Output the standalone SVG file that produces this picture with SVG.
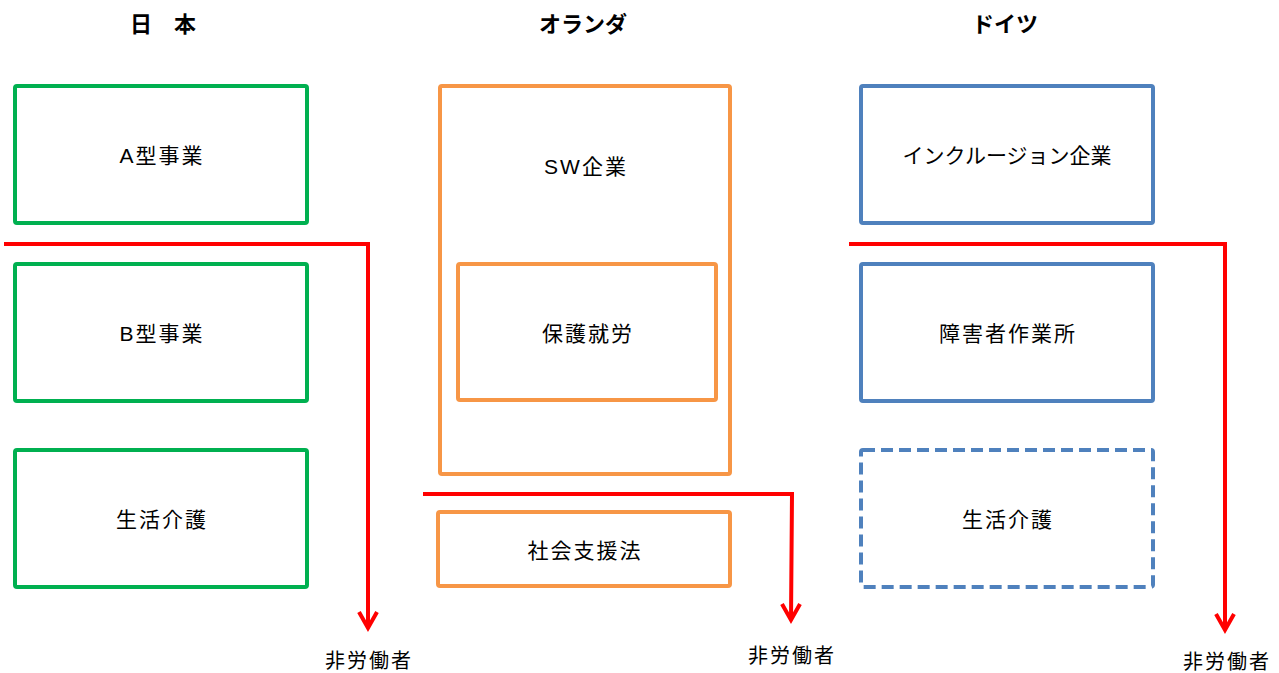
<svg xmlns="http://www.w3.org/2000/svg" width="1279" height="673" viewBox="0 0 1279 673">
<style>
.t{font-family:"Liberation Sans","Noto Sans CJK JP",sans-serif;font-size:21px;letter-spacing:2px;fill:#000;text-anchor:middle;dominant-baseline:central}
.n{letter-spacing:0}
.h{font-family:"Liberation Sans","Noto Sans CJK JP",sans-serif;font-size:22px;font-weight:bold;fill:#000;text-anchor:middle;dominant-baseline:central}
.s{font-family:"Liberation Sans","Noto Sans CJK JP",sans-serif;font-size:20px;letter-spacing:2px;fill:#000;text-anchor:middle;dominant-baseline:central}
.g{fill:none;stroke:#00B050;stroke-width:4;rx:2}
.o{fill:none;stroke:#F79646;stroke-width:4;rx:2}
.b{fill:none;stroke:#4F81BD;stroke-width:4;rx:2}
.d{stroke-dasharray:12 6}
.r{fill:none;stroke:#FF0000;stroke-width:4}
</style>
<g id="titles">
<text class="h" x="163" y="24">日　本</text>
<text class="h" x="583" y="24">オランダ</text>
<text class="h" x="1005" y="24">ドイツ</text>
</g>
<g id="jp-a"><rect class="g" x="15" y="86" width="292" height="137"/><text class="t" x="162" y="155">A型事業</text></g>
<g id="jp-b"><rect class="g" x="15" y="264" width="292" height="137"/><text class="t" x="162" y="333">B型事業</text></g>
<g id="jp-c"><rect class="g" x="15" y="450" width="292" height="137"/><text class="t" x="162" y="519">生活介護</text></g>
<g id="nl-sw"><rect class="o" x="440" y="86" width="290" height="388"/><text class="t" x="586" y="166">SW企業</text></g>
<g id="nl-p"><rect class="o" x="458" y="264" width="258" height="136"/><text class="t" x="588" y="333">保護就労</text></g>
<g id="nl-s"><rect class="o" x="438" y="512" width="292" height="74"/><text class="t" x="585" y="550">社会支援法</text></g>
<g id="de-a"><rect class="b" x="861" y="86" width="292" height="137"/><text class="t n" x="1007" y="155">インクルージョン企業</text></g>
<g id="de-b"><rect class="b" x="861" y="264" width="292" height="137"/><text class="t" x="1008" y="333">障害者作業所</text></g>
<g id="de-c"><rect class="b d" x="861" y="450" width="292" height="137"/><text class="t" x="1008" y="519">生活介護</text></g>
<g id="connectors">
<polyline class="r" points="4,244 368,244 368,628"/>
<polyline class="r" points="359,612 368,628 377,612"/>
<polyline class="r" points="423,494 792,494 791,620"/>
<polyline class="r" points="782,604 791,620 800,604"/>
<polyline class="r" points="849,244 1225,244 1225,630"/>
<polyline class="r" points="1216,614 1225,630 1234,614"/>
</g>
<g id="labels">
<text class="s" x="369" y="661">非労働者</text>
<text class="s" x="792" y="656">非労働者</text>
<text class="s" x="1227" y="662">非労働者</text>
</g>
</svg>
